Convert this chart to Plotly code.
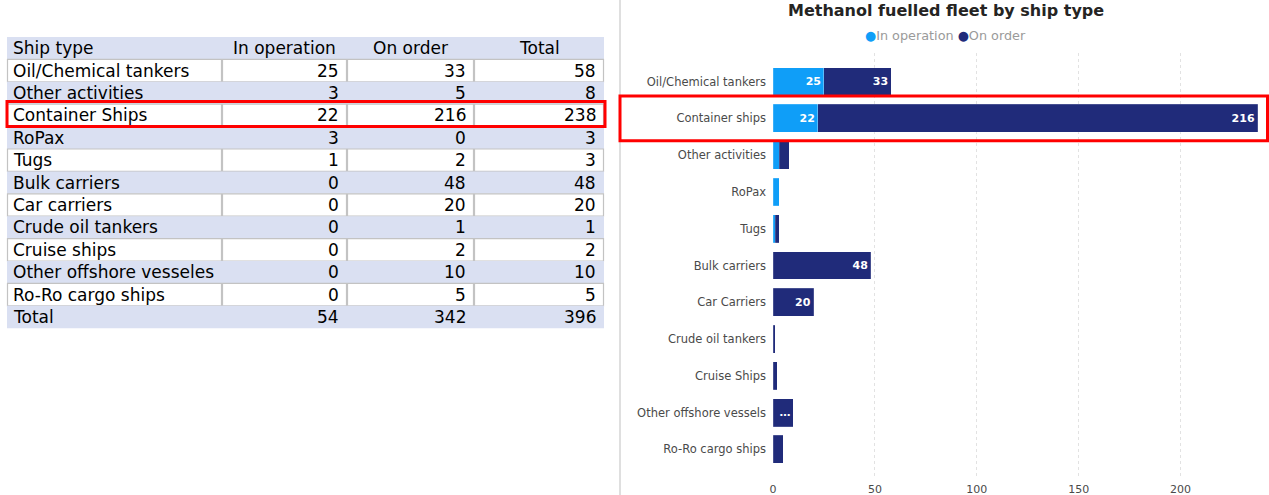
import plotly.graph_objects as go

W, H = 1269, 495

# ---- table data ----
table_types = ["Oil/Chemical tankers", "Other activities", "Container Ships", "RoPax", "Tugs",
               "Bulk carriers", "Car carriers", "Crude oil tankers", "Cruise ships",
               "Other offshore vesseles", "Ro-Ro cargo ships"]
table_in_op = [25, 3, 22, 3, 1, 0, 0, 0, 0, 0, 0]
table_on_order = [33, 5, 216, 0, 2, 48, 20, 1, 2, 10, 5]
table_headers = ["Ship type", "In operation", "On order", "Total"]

# ---- chart data ----
chart_types = ["Oil/Chemical tankers", "Container ships", "Other activities", "RoPax", "Tugs",
               "Bulk carriers", "Car Carriers", "Crude oil tankers", "Cruise Ships",
               "Other offshore vessels", "Ro-Ro cargo ships"]
chart_in_op = [25, 22, 3, 3, 1, 0, 0, 0, 0, 0, 0]
chart_on_order = [33, 216, 5, 0, 2, 48, 20, 1, 2, 10, 5]
x_ticks = [0, 50, 100, 150, 200]

C_OPER = "#0f9ef8"
C_ORDER = "#202b7a"
BAND = "#dae0f2"
CELL_LINE = "#c3c3c3"
TABLE_FONT = dict(family="DejaVu Sans, Verdana", size=17, color="#000000")


def px(x):
    return x / W


def py(y):
    return 1 - y / H


# ---- spreadsheet-style table drawn with shapes + annotations ----
tot_row = [a + b for a, b in zip(table_in_op, table_on_order)]
rows = [table_headers]
for t, a, b, c in zip(table_types, table_in_op, table_on_order, tot_row):
    rows.append([t, a, b, c])
rows.append(["Total", sum(table_in_op), sum(table_on_order), sum(tot_row)])

col_edges = [7, 222, 347, 474, 604]
TOP, ROW_H = 37, 22.4

shapes = []
annotations = []
for i, row in enumerate(rows):
    y0 = TOP + ROW_H * i
    y1 = y0 + ROW_H
    banded = (i % 2 == 0)
    if banded:
        shapes.append(dict(type="rect", xref="paper", yref="paper", layer="below",
                           x0=px(col_edges[0]), x1=px(col_edges[-1]), y0=py(y1), y1=py(y0),
                           fillcolor=BAND, line=dict(width=0)))
    else:
        for c in range(4):
            shapes.append(dict(type="rect", xref="paper", yref="paper", layer="below",
                               x0=px(col_edges[c] + 0.5), x1=px(col_edges[c + 1] - 0.5),
                               y0=py(y1), y1=py(y0), fillcolor="white",
                               line=dict(color=CELL_LINE, width=1.2)))
    yc = py((y0 + y1) / 2)
    for c, val in enumerate(row):
        if c == 0:
            x, anchor = px(col_edges[0] + 4), "left"
        elif i == 0:
            x, anchor = px((col_edges[c] + col_edges[c + 1]) / 2), "center"
        else:
            x, anchor = px(col_edges[c + 1] - 6), "right"
        annotations.append(dict(text=str(val), xref="paper", yref="paper", x=x, y=yc,
                                xanchor=anchor, yanchor="middle", showarrow=False,
                                font=TABLE_FONT))

fig = go.Figure()


def bar_labels(vals):
    out = []
    for v in vals:
        if v >= 20:
            out.append(str(v))
        elif v >= 10:
            out.append("…")
        else:
            out.append("")
    return out


for name, vals, color in [("In operation", chart_in_op, C_OPER),
                          ("On order", chart_on_order, C_ORDER)]:
    fig.add_trace(go.Bar(
        y=chart_types, x=vals, orientation="h", name=name,
        marker=dict(color=color, line=dict(color="rgba(255,255,255,0.35)", width=0.5)),
        text=bar_labels(vals), textposition="inside", insidetextanchor="end",
        textfont=dict(family="DejaVu Sans, Verdana", size=11, color="white", weight="bold"),
        constraintext="none",
        showlegend=False,
        hoverinfo="x+y+name",
    ))

legend_text = (f"<span style='color:{C_OPER}'>●</span>In operation "
               f"<span style='color:{C_ORDER}'>●</span>On order")

annotations += [
    dict(text="<b>Methanol fuelled fleet by ship type</b>", xref="paper", yref="paper",
         x=px(946), y=py(10), xanchor="center", yanchor="middle", showarrow=False,
         font=dict(family="DejaVu Sans, Verdana", size=16, color="#252423")),
    dict(text=legend_text, xref="paper", yref="paper",
         x=px(945), y=py(35), xanchor="center", yanchor="middle", showarrow=False,
         font=dict(family="DejaVu Sans, Verdana", size=12.8, color="#9a9a9a")),
]

shapes += [
    dict(type="line", xref="paper", yref="paper", x0=px(620), x1=px(620), y0=0, y1=1,
         line=dict(color="#d4d4d4", width=1.5)),
    dict(type="rect", xref="paper", yref="paper", x0=px(7), x1=px(605),
         y0=py(126.5), y1=py(101.5), line=dict(color="#ff0000", width=3)),
    dict(type="rect", xref="paper", yref="y", x0=px(620), x1=px(1267.5),
         y0=1 - 0.61, y1=1 + 0.61, line=dict(color="#ff0000", width=3)),
]

fig.update_layout(
    width=W, height=H,
    margin=dict(l=0, r=0, t=0, b=0),
    paper_bgcolor="white", plot_bgcolor="white",
    barmode="stack", bargap=0.24,
    font=dict(family="DejaVu Sans, Verdana", color="#4a4a4a"),
    xaxis=dict(
        domain=[px(773), px(1262)], range=[0, 240],
        tickvals=x_ticks, showgrid=True, griddash="dot", gridcolor="#e2e2e2", gridwidth=1,
        zeroline=False, showline=False, tickfont=dict(size=11, color="#4a4a4a"),
        ticklabelstandoff=3, automargin=False,
    ),
    yaxis=dict(
        domain=[py(478), py(53)], type="category",
        range=[10.78, -0.78], showgrid=False, zeroline=False, showline=False,
        ticks="", ticklabelstandoff=6,
        tickfont=dict(size=11.5, color="#4a4a4a"), automargin=False,
    ),
    annotations=annotations,
    shapes=shapes,
)

fig.write_html("out.html")
